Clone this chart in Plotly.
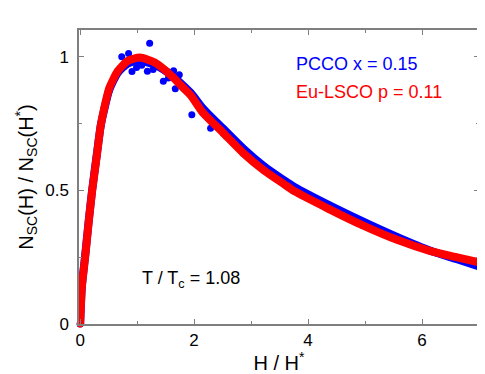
import plotly.graph_objects as go

# Eu-LSCO p = 0.11 (red)
red_h = [0.0, 0.03, 0.09, 0.15, 0.21, 0.29, 0.36, 0.42, 0.51, 0.66, 0.84, 1.05, 1.31, 1.61, 1.79,
         1.94, 2.15, 2.51, 2.87, 3.23, 3.58, 3.76, 4.36, 4.96, 5.56, 6.15, 6.6, 7.0]
red_n = [0.0, 0.138, 0.254, 0.382, 0.497, 0.626, 0.741, 0.805, 0.882, 0.946, 0.985, 0.997, 0.978, 0.927, 0.888,
         0.856, 0.792, 0.715, 0.638, 0.574, 0.523, 0.497, 0.431, 0.369, 0.315, 0.273, 0.25, 0.231]

# PCCO x = 0.15 (blue), main band
blue_h = [0.0, 0.03, 0.09, 0.15, 0.21, 0.29, 0.36, 0.42, 0.51, 0.66, 0.84, 1.05, 1.31, 1.61,
          1.94, 2.15, 2.51, 2.87, 3.23, 3.58, 3.76, 4.36, 4.96, 5.56, 6.15, 6.6, 7.0]
blue_n = [0.0, 0.14, 0.26, 0.385, 0.5, 0.63, 0.74, 0.8, 0.875, 0.94, 0.975, 0.985, 0.97, 0.93,
          0.865, 0.808, 0.731, 0.655, 0.59, 0.538, 0.513, 0.446, 0.384, 0.326, 0.274, 0.243, 0.215]

# PCCO scattered points
blue_out_h = [0.73, 0.85, 0.91, 0.99, 1.08, 1.18, 1.22, 1.28, 1.46, 1.55, 1.64, 1.67, 1.74, 1.96, 2.29]
blue_out_n = [1.0, 1.012, 0.945, 0.96, 0.968, 0.946, 1.05, 0.952, 0.908, 0.92, 0.948, 0.88, 0.933, 0.783, 0.732]

x_ticks = [0, 2, 4, 6]
y_ticks = [0, 0.5, 1]
y_ticklabels = ["0", "0.5", "1"]

BLUE = "#0000ff"
RED = "#ff0000"
AX = "#7f7f7f"
FONT = "Liberation Sans, Arial, sans-serif"

fig = go.Figure()
fig.add_trace(go.Scatter(x=blue_h, y=blue_n, mode="lines+markers", line=dict(color=BLUE, width=8, shape="spline", smoothing=0.6),
                         marker=dict(color=BLUE, size=7), cliponaxis=False, showlegend=False))
fig.add_trace(go.Scatter(x=blue_out_h, y=blue_out_n, mode="markers",
                         marker=dict(color=BLUE, size=7), cliponaxis=False, showlegend=False))
fig.add_trace(go.Scatter(x=red_h, y=red_n, mode="lines+markers", line=dict(color=RED, width=8, shape="spline", smoothing=0.6),
                         marker=dict(color=RED, size=7), cliponaxis=False, showlegend=False))

fig.add_annotation(x=0.538, y=0.885, xref="paper", yref="paper", xanchor="left", yanchor="middle",
                   text="PCCO x = 0.15", showarrow=False, font=dict(color=BLUE, size=18, family=FONT))
fig.add_annotation(x=0.538, y=0.79, xref="paper", yref="paper", xanchor="left", yanchor="middle",
                   text="Eu-LSCO p = 0.11", showarrow=False, font=dict(color=RED, size=18, family=FONT))
fig.add_annotation(x=0.152, y=0.152, xref="paper", yref="paper", xanchor="left", yanchor="middle",
                   text="T / T<sub>c</sub> = 1.08", showarrow=False, font=dict(color="black", size=18, family=FONT))

# the page body adds an 8px offset, so the figure is sized to fill the window from (8, 8)
fig.update_layout(
    width=477, height=366,
    margin=dict(l=71, r=6, t=22, b=50, autoexpand=False),
    paper_bgcolor="white", plot_bgcolor="white",
    font=dict(family=FONT, color="black"),
    xaxis=dict(range=[-0.02, 7.0], tickvals=x_ticks, ticktext=[str(v) for v in x_ticks], automargin=False,
               showgrid=False, zeroline=False, showline=True, linecolor=AX, linewidth=1.5,
               mirror="ticks", ticks="inside", ticklen=5, tickcolor=AX, tickwidth=1,
               minor=dict(tickvals=[1, 3, 5], ticks="inside", ticklen=3, tickcolor=AX, showgrid=False),
               tickfont=dict(size=17), ticklabelstandoff=0,
               title=dict(text="H / H<sup>*</sup>", font=dict(size=20), standoff=4)),
    yaxis=dict(range=[0, 1.1], tickvals=y_ticks, ticktext=y_ticklabels, automargin=False,
               showgrid=False, zeroline=False, showline=True, linecolor=AX, linewidth=1.5,
               mirror="ticks", ticks="inside", ticklen=5, tickcolor=AX, tickwidth=1,
               minor=dict(tickvals=[0.25, 0.75], ticks="inside", ticklen=3, tickcolor=AX, showgrid=False),
               tickfont=dict(size=17), ticklabelstandoff=5,
               title=dict(text="N<sub>SC</sub>(H) / N<sub>SC</sub>(H<sup>*</sup>)", font=dict(size=20), standoff=6)),
)

fig.write_html("out.html")
